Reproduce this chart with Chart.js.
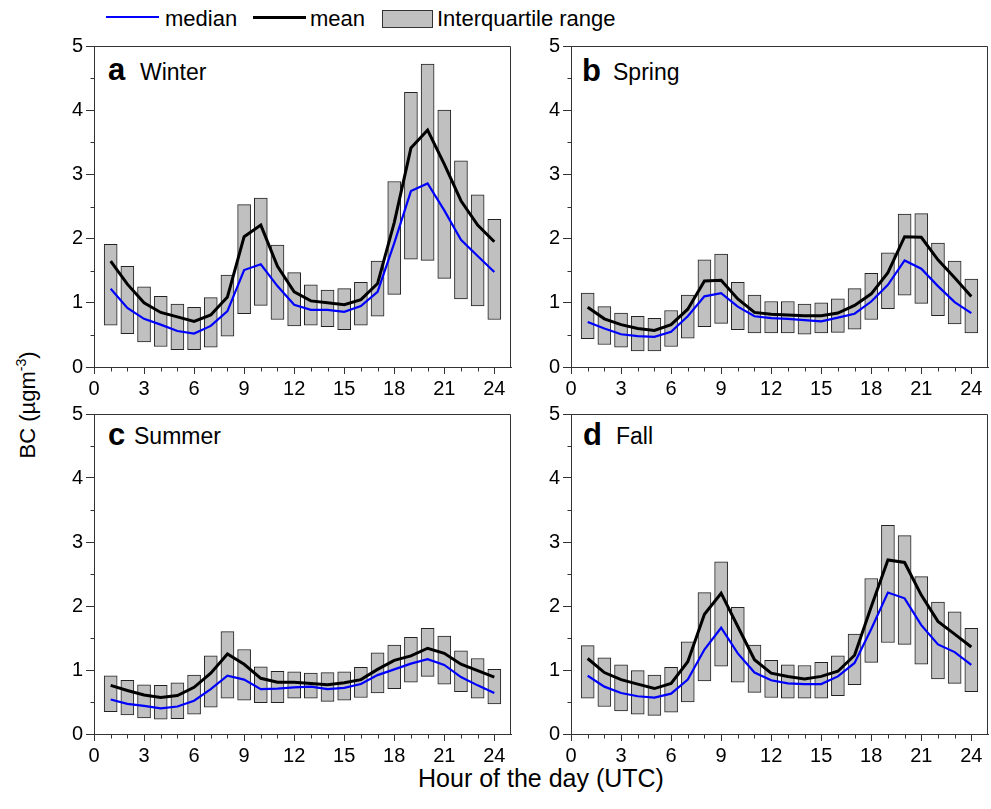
<!DOCTYPE html>
<html>
<head>
<meta charset="utf-8">
<script src="https://cdn.jsdelivr.net/npm/chart.js@4.4.1/dist/chart.umd.min.js"></script>
<style>
body{margin:0;background:#fff;width:991px;height:809px;position:relative;overflow:hidden;font-family:'Liberation Sans',Arial,sans-serif;color:#000}
canvas{position:absolute}
.t{position:absolute;line-height:1;white-space:nowrap}
.lg{font-size:22px;top:8px}
.pl{font-size:31px;font-weight:bold}
.ps{font-size:23px}
</style>
</head>
<body>

<div style="position:absolute;left:106px;top:16px;width:53px;height:2px;background:#0000ff"></div>
<div class="t lg" style="left:165px">median</div>
<div style="position:absolute;left:253px;top:16px;width:53px;height:3px;background:#000"></div>
<div class="t lg" style="left:310px">mean</div>
<div style="position:absolute;left:382px;top:10px;width:51px;height:18px;background:#c0c0c0;border:1px solid #333;box-sizing:border-box"></div>
<div class="t lg" style="left:437px">Interquartile range</div>

<div class="t" style="left:-72px;top:394px;width:200px;height:22px;font-size:22px;text-align:center;transform:rotate(-90deg)">BC (µgm<span style="font-size:14px;position:relative;top:-9px">-3</span>)</div>
<div class="t" style="left:341px;top:766px;width:400px;font-size:25px;text-align:center">Hour of the day (UTC)</div>

<div class="t pl" style="left:108px;top:54px">a</div><div class="t ps" style="left:140px;top:61px">Winter</div>
<div class="t pl" style="left:582px;top:55px">b</div><div class="t ps" style="left:613px;top:61px">Spring</div>
<div class="t pl" style="left:108px;top:419px">c</div><div class="t ps" style="left:134px;top:425px">Summer</div>
<div class="t pl" style="left:583px;top:419px">d</div><div class="t ps" style="left:616px;top:425px">Fall</div>

<canvas id="ca"></canvas>
<canvas id="cb"></canvas>
<canvas id="cc"></canvas>
<canvas id="cd"></canvas>

<script>
var hours = [1,2,3,4,5,6,7,8,9,10,11,12,13,14,15,16,17,18,19,20,21,22,23,24];
var xTicks = [0,3,6,9,12,15,18,21,24];
var yTicks = [0,1,2,3,4,5];

var winterQ1 = [0.65,0.52,0.39,0.32,0.27,0.27,0.31,0.48,0.83,0.96,0.74,0.64,0.65,0.63,0.58,0.65,0.79,1.13,1.68,1.66,1.38,1.06,0.95,0.74];
var winterQ3 = [1.91,1.57,1.25,1.10,0.98,0.93,1.08,1.43,2.53,2.63,1.90,1.47,1.28,1.20,1.22,1.32,1.65,2.89,4.28,4.72,4.00,3.21,2.68,2.30];
var winterMean = [1.65,1.29,1.00,0.85,0.78,0.71,0.81,1.09,2.03,2.21,1.57,1.17,1.03,1.00,0.97,1.05,1.30,2.25,3.41,3.69,3.16,2.59,2.21,1.95];
var winterMedian = [1.22,0.92,0.75,0.66,0.56,0.52,0.64,0.87,1.51,1.60,1.26,0.97,0.89,0.89,0.86,0.95,1.17,1.93,2.74,2.86,2.44,1.98,1.73,1.48];

var springQ1 = [0.44,0.35,0.31,0.25,0.25,0.32,0.45,0.63,0.68,0.58,0.53,0.53,0.53,0.51,0.53,0.54,0.59,0.74,0.91,1.12,0.99,0.80,0.67,0.53];
var springQ3 = [1.15,0.94,0.84,0.79,0.76,0.88,1.12,1.67,1.76,1.32,1.12,1.02,1.02,0.98,1.00,1.06,1.22,1.46,1.78,2.38,2.39,1.93,1.65,1.37];
var springMean = [0.93,0.75,0.66,0.60,0.57,0.66,0.90,1.34,1.35,1.06,0.85,0.82,0.81,0.80,0.80,0.84,0.96,1.14,1.47,2.03,2.02,1.67,1.39,1.10];
var springMedian = [0.70,0.60,0.51,0.48,0.47,0.55,0.79,1.10,1.15,0.94,0.79,0.76,0.75,0.73,0.71,0.77,0.83,1.02,1.28,1.66,1.53,1.26,1.01,0.84];

var summerQ1 = [0.35,0.30,0.25,0.23,0.24,0.31,0.42,0.56,0.53,0.49,0.49,0.56,0.56,0.51,0.53,0.57,0.64,0.71,0.81,0.90,0.78,0.66,0.56,0.47];
var summerQ3 = [0.91,0.84,0.77,0.76,0.80,0.92,1.22,1.60,1.32,1.05,0.98,0.97,0.95,0.96,0.97,1.04,1.27,1.39,1.51,1.65,1.53,1.30,1.18,1.01];
var summerMean = [0.76,0.68,0.61,0.57,0.60,0.73,0.95,1.25,1.09,0.87,0.81,0.81,0.79,0.77,0.80,0.85,1.01,1.15,1.22,1.34,1.26,1.09,0.99,0.89];
var summerMedian = [0.54,0.47,0.44,0.40,0.43,0.52,0.70,0.91,0.85,0.70,0.71,0.73,0.74,0.70,0.72,0.78,0.92,1.01,1.10,1.17,1.08,0.89,0.76,0.64];

var fallQ1 = [0.56,0.43,0.36,0.31,0.29,0.34,0.50,0.83,1.06,0.81,0.65,0.57,0.56,0.56,0.56,0.60,0.77,1.12,1.43,1.40,1.09,0.86,0.79,0.66];
var fallQ3 = [1.38,1.19,1.08,0.99,0.92,1.04,1.44,2.21,2.69,1.98,1.39,1.15,1.08,1.07,1.12,1.22,1.56,2.43,3.26,3.10,2.46,2.06,1.91,1.65];
var fallMean = [1.18,0.96,0.85,0.78,0.71,0.79,1.13,1.87,2.20,1.68,1.16,0.95,0.90,0.86,0.90,0.98,1.23,1.99,2.72,2.68,2.17,1.76,1.56,1.36];
var fallMedian = [0.91,0.74,0.64,0.59,0.57,0.63,0.85,1.32,1.66,1.26,0.96,0.84,0.79,0.78,0.78,0.90,1.11,1.64,2.21,2.12,1.70,1.40,1.28,1.08];

var minorY = [0.5,1.5,2.5,3.5,4.5];
var fontFam = "'Liberation Sans', Arial, sans-serif";
var axisCol = '#333';

// box round the plot area + the short minor ticks
var framePlugin = {
	id: 'frame',
	afterDraw: function(chart) {
		var a = chart.chartArea, ctx = chart.ctx;
		var xs = chart.scales.x, ys = chart.scales.y;
		var l = Math.round(a.left) + 0.5, r = Math.round(a.right) - 0.5;
		var t = Math.round(a.top) + 0.5, b = Math.round(a.bottom) + 0.5;
		ctx.save();
		ctx.strokeStyle = axisCol;
		ctx.lineWidth = 1;
		ctx.beginPath();
		ctx.moveTo(l, t); ctx.lineTo(r, t); ctx.lineTo(r, b);
		hours.forEach(function(h) {
			if (h % 3 === 0) return;
			var px = Math.round(xs.getPixelForValue(h)) + 0.5;
			ctx.moveTo(px, b); ctx.lineTo(px, b + 4);
		});
		minorY.forEach(function(v) {
			var py = Math.round(ys.getPixelForValue(v)) + 0.5;
			ctx.moveTo(l, py); ctx.lineTo(l - 4, py);
		});
		ctx.stroke();
		ctx.restore();
	}
};

var panels = [
	{id: 'ca', L: 94, T: 46, R: 511, B: 367, q1: winterQ1, q3: winterQ3, mean: winterMean, median: winterMedian},
	{id: 'cb', L: 571, T: 46, R: 988, B: 367, q1: springQ1, q3: springQ3, mean: springMean, median: springMedian},
	{id: 'cc', L: 94, T: 414, R: 511, B: 734, q1: summerQ1, q3: summerQ3, mean: summerMean, median: summerMedian},
	{id: 'cd', L: 571, T: 414, R: 988, B: 734, q1: fallQ1, q3: fallQ3, mean: fallMean, median: fallMedian}
];

panels.forEach(function(p) {
	var cv = document.getElementById(p.id);
	cv.width = p.R - p.L + 68;
	cv.height = p.B - p.T + 56;
	cv.style.left = (p.L - 60) + 'px';
	cv.style.top = (p.T - 16) + 'px';

	new Chart(cv, {
		type: 'bar',
		data: {
			datasets: [
				{
					type: 'line', label: 'mean',
					data: hours.map(function(h, i) { return {x: h, y: p.mean[i]}; }),
					borderColor: '#000', borderWidth: 3, pointRadius: 0, tension: 0, order: 0
				},
				{
					type: 'line', label: 'median',
					data: hours.map(function(h, i) { return {x: h, y: p.median[i]}; }),
					borderColor: '#0000ff', borderWidth: 2.2, pointRadius: 0, tension: 0, order: 1
				},
				{
					type: 'bar', label: 'Interquartile range',
					data: hours.map(function(h, i) { return {x: h, y: [p.q1[i], p.q3[i]]}; }),
					backgroundColor: '#c0c0c0', borderColor: '#222', borderWidth: 1,
					borderSkipped: false, barThickness: 13, order: 2
				}
			]
		},
		options: {
			responsive: false,
			animation: false,
			layout: {padding: {top: 16, right: 8, left: 0, bottom: 0}},
			plugins: {legend: {display: false}, tooltip: {enabled: false}},
			scales: {
				x: {
					type: 'linear', min: 0, max: 25, offset: false,
					grid: {display: true, offset: false, drawOnChartArea: false, tickLength: 7, color: axisCol},
					border: {color: axisCol, width: 1},
					ticks: {color: '#000', font: {size: 20, family: fontFam}, padding: 3, maxRotation: 0, autoSkip: false},
					afterBuildTicks: function(s) { s.ticks = xTicks.map(function(v) { return {value: v}; }); },
					afterFit: function(s) { s.height = 40; }
				},
				y: {
					min: 0, max: 5,
					grid: {display: true, drawOnChartArea: false, tickLength: 8, color: axisCol},
					border: {color: axisCol, width: 1},
					ticks: {color: '#000', font: {size: 20, family: fontFam}, padding: 3},
					afterBuildTicks: function(s) { s.ticks = yTicks.map(function(v) { return {value: v}; }); },
					afterFit: function(s) { s.width = 60; }
				}
			}
		},
		plugins: [framePlugin]
	});
});
</script>
</body>
</html>
